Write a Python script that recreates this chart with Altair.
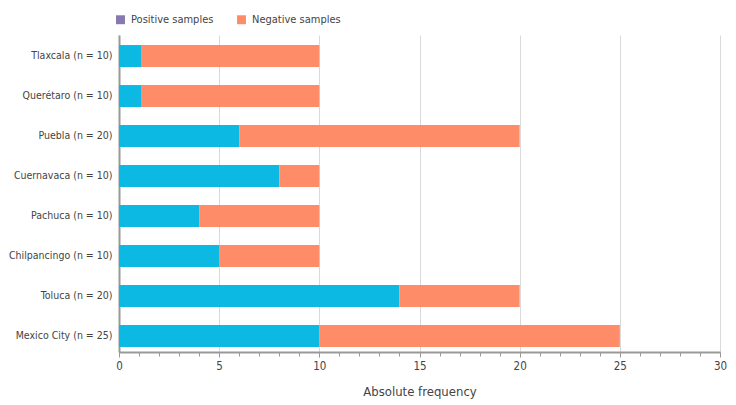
import altair as alt
import pandas as pd

regions = ["Tlaxcala (n = 10)", "Querétaro (n = 10)", "Puebla (n = 20)", "Cuernavaca (n = 10)",
           "Pachuca (n = 10)", "Chilpancingo (n = 10)", "Toluca (n = 20)", "Mexico City (n = 25)"]
positive = [1.1, 1.1, 6, 8, 4, 5, 14, 10]
totals = [10, 10, 20, 10, 10, 10, 20, 25]
negative = [t - p for t, p in zip(totals, positive)]
series = ["Positive samples", "Negative samples"]
bar_colors = ["#0bb9e3", "#ff8c69"]
legend_colors = ["#8878b0", "#ff8c69"]
x_major = [0, 5, 10, 15, 20, 25, 30]
x_minor = list(range(0, 31))

rows = []
for r, p, n in zip(regions, positive, negative):
    rows.append({"region": r, "series": series[0], "start": 0, "end": p, "order": 0})
    rows.append({"region": r, "series": series[1], "start": p, "end": p + n, "order": 1})
df = pd.DataFrame(rows)

FONT = "DejaVu Sans Condensed, Roboto Condensed, Roboto"
TXT = "#444444"

xscale = alt.Scale(domain=[0, 30], nice=False)
yscale = alt.Scale(domain=regions, paddingInner=0.45, paddingOuter=0.1875, align=0.67)

bars = alt.Chart(df).mark_bar().encode(
    y=alt.Y("region:N", scale=yscale, sort=regions,
            axis=alt.Axis(title=None, ticks=False, labelFontSize=10.5, labelColor=TXT,
                          labelFont=FONT, labelPadding=7, domainColor="#999999",
                          domainWidth=2, grid=False, labelLimit=200)),
    x=alt.X("start:Q", scale=xscale,
            axis=alt.Axis(orient="bottom", values=x_major, title="Absolute frequency", grid=True,
                          gridColor="#d9d9d9", gridWidth=1, domainColor="#999999",
                          domainWidth=2, tickColor="#999999", tickSize=5, labelFlush=False,
                          labelFontSize=11.5, labelColor=TXT, labelFont=FONT,
                          labelPadding=3, titleFont=FONT, titleFontSize=13,
                          titleFontWeight="normal", titleColor=TXT, titlePadding=14)),
    x2="end:Q",
    fill=alt.Fill("series:N", scale=alt.Scale(domain=series, range=bar_colors), legend=None),
)

minor = alt.Chart(pd.DataFrame({"v": x_minor})).mark_tick(opacity=0).encode(
    x=alt.X("v:Q", scale=xscale,
            axis=alt.Axis(orient="bottom", values=x_minor, labels=False, title=None, grid=False,
                          domain=False, tickColor="#999999", tickSize=4)),
)

legend_df = pd.DataFrame({"series": series, "v": [0, 0]})
legend_layer = alt.Chart(legend_df).mark_point(filled=True, opacity=0, size=0).encode(
    x=alt.X("v:Q", scale=xscale, axis=None),
    color=alt.Color("series:N", scale=alt.Scale(domain=series, range=legend_colors),
                    legend=alt.Legend(title=None, orient="none", legendX=-4, legendY=-21,
                                      direction="horizontal", symbolType="square",
                                      symbolOpacity=1, symbolSize=80, symbolStrokeWidth=0,
                                      labelFont=FONT, labelFontSize=11, labelColor=TXT,
                                      columnPadding=22, labelOffset=5, labelLimit=200)),
)

chart = alt.layer(minor, bars, legend_layer).resolve_scale(
    fill="independent", color="independent"
).resolve_axis(x="independent").properties(
    width=601, height=317,
    autosize=alt.AutoSizeParams(type="none"),
    padding={"left": 111, "top": 27, "right": 8, "bottom": 50},
).configure_view(stroke=None)

chart.save("out.html", embed_options={"renderer": "svg", "actions": False})
